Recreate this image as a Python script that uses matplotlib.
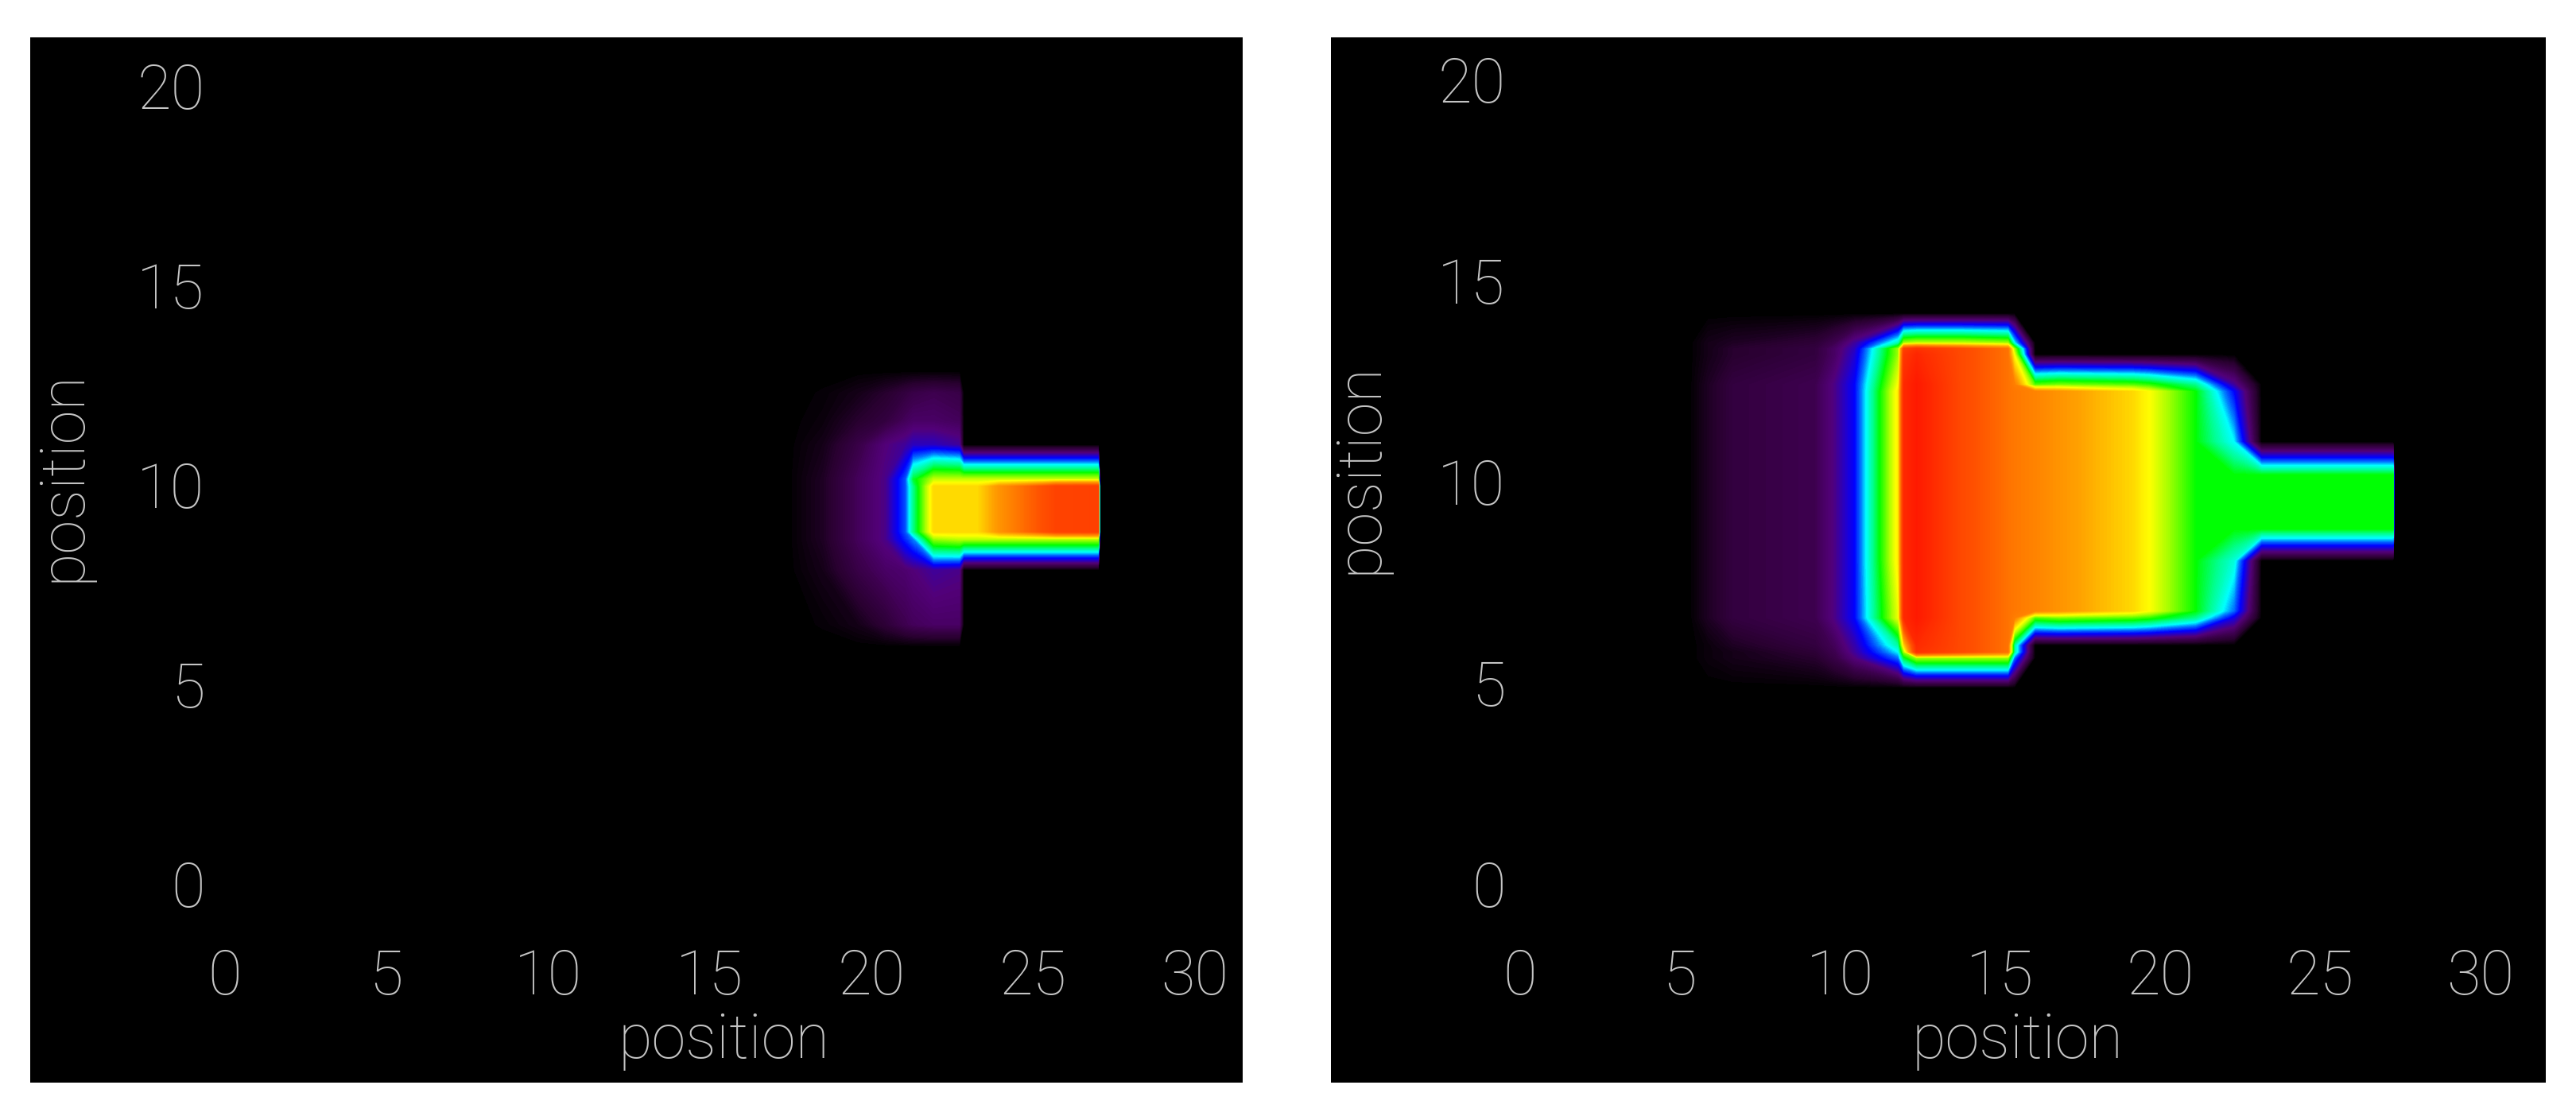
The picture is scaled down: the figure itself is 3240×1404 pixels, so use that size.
import matplotlib
matplotlib.use('Agg')
import matplotlib.pyplot as plt
import numpy as np
from matplotlib.colors import LinearSegmentedColormap

plt.rcParams['font.family'] = ['Roboto', 'DejaVu Sans']

x_ticks = [0, 5, 10, 15, 20, 25, 30]
y_ticks = [0, 5, 10, 15, 20]
axis_label = 'position'

# left panel: field at the places where it changes
left_x = [17.4, 18.5, 19.6, 20.44, 21.06, 21.3, 21.93, 22.72, 22.85, 23.3, 23.95, 25.7, 27.02, 27.07]
left_y = [5.95, 6.5, 7.87, 8.65, 8.83, 9.96, 10.14, 11.0, 11.6, 12.3, 12.85]
left_field = [
    [0, 0, 0, 0, 0, 0, 0, 0, 0, 0, 0, 0, 0, 0],
    [0, .005, .02, .05, .08, .09, .10, .10, 0, 0, 0, 0, 0, 0],
    [0, .02, .07, .10, .11, .12, .14, .13, 0, 0, 0, 0, 0, 0],
    [0, .03, .09, .13, .22, .26, .50, .52, .52, .52, .52, .52, .52, 0],
    [0, .03, .09, .13, .24, .36, .60, .60, .60, .60, .68, .84, .85, 0],
    [0, .03, .09, .13, .24, .36, .60, .60, .60, .60, .68, .84, .85, 0],
    [0, .03, .09, .13, .24, .40, .52, .52, .52, .52, .52, .52, .52, 0],
    [0, .02, .07, .12, .14, .16, .16, .14, 0, 0, 0, 0, 0, 0],
    [0, .01, .04, .06, .09, .10, .10, .09, 0, 0, 0, 0, 0, 0],
    [0, .005, .02, .04, .06, .07, .08, .07, 0, 0, 0, 0, 0, 0],
    [0, 0, 0, 0, 0, 0, 0, 0, 0, 0, 0, 0, 0, 0],
]

# right panel
right_x = [5.3, 5.9, 6.67, 9.25, 9.86, 10.47, 11.83, 12.0, 12.4, 13.8, 15.25, 15.45, 16.09, 16.85,
           19.13, 19.66, 21.1, 22.3, 23.16, 27.27, 27.32]
right_y = [4.88, 5.62, 5.77, 5.94, 6.62, 6.79, 8.04, 8.83, 10.16, 10.99, 12.24, 12.41, 13.16, 13.3, 13.45, 14.18]
right_field = [
    [0, 0, 0, 0, 0, 0, 0, 0, 0, 0, 0, 0, 0, 0, 0, 0, 0, 0, 0, 0, 0],
    [0, .01, .02, .04, .07, .12, .25, .40, .50, .50, .50, .25, 0, 0, 0, 0, 0, 0, 0, 0, 0],
    [0, .01, .02, .05, .08, .14, .30, .50, .90, .82, .74, .35, 0, 0, 0, 0, 0, 0, 0, 0, 0],
    [0, .01, .03, .06, .09, .15, .35, .60, .92, .82, .74, .35, 0, 0, 0, 0, 0, 0, 0, 0, 0],
    [0, .03, .06, .08, .13, .20, .55, .92, .97, .82, .74, .72, .46, .48, .46, .44, .36, .18, 0, 0, 0],
    [0, .03, .06, .08, .13, .20, .55, .92, .97, .82, .74, .73, .71, .68, .60, .56, .42, .25, 0, 0, 0],
    [0, .03, .06, .08, .13, .20, .58, .92, .97, .82, .74, .73, .71, .68, .60, .56, .42, .32, 0, 0, 0],
    [0, .03, .06, .08, .13, .20, .58, .92, .97, .82, .74, .73, .71, .68, .60, .56, .42, .42, .42, .42, 0],
    [0, .03, .06, .08, .13, .20, .58, .92, .97, .82, .74, .73, .71, .68, .60, .56, .42, .42, .42, .42, 0],
    [0, .03, .06, .08, .13, .20, .58, .92, .97, .82, .74, .73, .71, .68, .60, .56, .42, .30, 0, 0, 0],
    [0, .03, .06, .08, .13, .20, .58, .92, .97, .82, .74, .73, .71, .68, .60, .56, .42, .20, 0, 0, 0],
    [0, .03, .06, .08, .13, .20, .56, .92, .97, .82, .74, .72, .46, .48, .46, .44, .36, .14, 0, 0, 0],
    [0, .02, .04, .06, .10, .17, .50, .88, .93, .82, .74, .55, 0, 0, 0, 0, 0, 0, 0, 0, 0],
    [0, .02, .04, .06, .10, .16, .50, .85, .90, .82, .74, .50, 0, 0, 0, 0, 0, 0, 0, 0, 0],
    [0, .02, .03, .05, .08, .14, .34, .50, .52, .52, .50, .30, 0, 0, 0, 0, 0, 0, 0, 0, 0],
    [0, 0, 0, 0, 0, 0, 0, 0, 0, 0, 0, 0, 0, 0, 0, 0, 0, 0, 0, 0, 0],
]

color_stops = [
    (0.0, '#000000'), (0.04, '#28002f'), (0.08, '#3e0050'), (0.12, '#520078'), (0.17, '#2000d0'),
    (0.20, '#0000ff'), (0.26, '#0080ff'), (0.30, '#00ffff'), (0.36, '#00ff90'),
    (0.42, '#00ff00'), (0.50, '#a0ff00'), (0.56, '#ffff00'), (0.66, '#ffa000'),
    (0.80, '#ff5000'), (1.0, '#ff1000'),
]
field_cmap = LinearSegmentedColormap.from_list('field', color_stops, N=512)

W, H = 3240, 1404
GREY = '#c4c4c4'


def draw_panel(box, px_zero, px_per_unit, xs, ys, field, xlabel_xy, ylabel_xy):
    left, right, top, bottom = box
    ax = plt.gcf().add_axes([left / W, 1 - bottom / H, (right - left) / W, (bottom - top) / H],
                            facecolor='black')

    # contourf colours by value, so the rainbow bands show up along the edges
    ax.contourf(xs, ys, np.array(field, dtype=float), levels=np.linspace(0.004, 1, 250),
                cmap=field_cmap, vmin=0, vmax=1, antialiased=False)

    # limits come from where the tick labels sit in the picture
    x0, y0 = px_zero
    ux, uy = px_per_unit
    ax.set_xlim((left - x0) / ux, (right - x0) / ux)
    ax.set_ylim((y0 - bottom) / uy, (y0 - top) / uy)

    ax.set_xticks(x_ticks)
    ax.set_yticks(y_ticks)
    # labels sit inside the black box, so negative padding
    ax.tick_params(axis='x', length=0, pad=-122, labelsize=56, labelcolor=GREY)
    ax.tick_params(axis='y', length=0, pad=-158, labelsize=56, labelcolor=GREY)
    for lab in ax.get_xticklabels() + ax.get_yticklabels():
        lab.set_fontweight('light')

    ax.set_xlabel(axis_label, fontsize=56, color=GREY, fontweight='light', va='center')
    ax.set_ylabel(axis_label, fontsize=56, color=GREY, fontweight='light', va='center')
    ax.xaxis.set_label_coords(*xlabel_xy)
    ax.yaxis.set_label_coords(*ylabel_xy)
    for s in ax.spines.values():
        s.set_visible(False)
    return ax


fig = plt.figure(figsize=(W / 100, H / 100), dpi=100, facecolor='white')

draw_panel((38, 1563, 47, 1362), (282, 1112), (40.7, 50.2), left_x, left_y, left_field,
           (0.572, 0.04), (0.027, 0.58))
draw_panel((1674, 3202, 47, 1362), (1911, 1112), (40.3, 50.6), right_x, right_y, right_field,
           (0.565, 0.04), (0.024, 0.588))

fig.savefig('out.png', dpi=100, facecolor='white')
